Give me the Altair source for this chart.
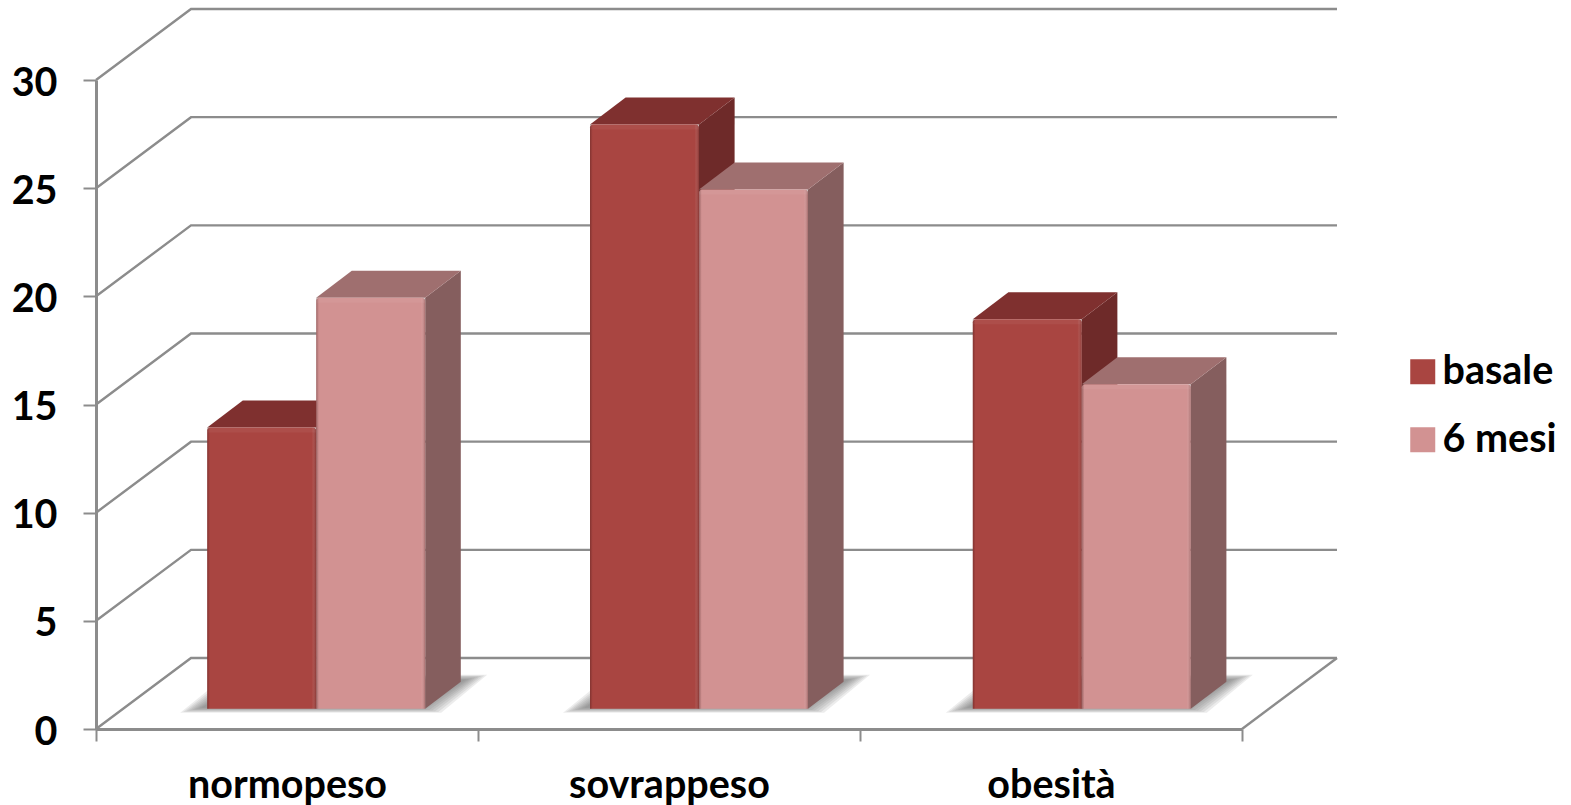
import altair as alt
import pandas as pd

# Chart values
categories = ["normopeso", "sovrappeso", "obesità"]
basale = [13, 27, 18]
sei_mesi = [19, 24, 15]
series_names = ["basale", "6 mesi"]
y_ticks = [0, 5, 10, 15, 20, 25, 30]

# Plot area in pixels and the oblique projection expressed in axis units
W, H = 1146, 649
PX_X = W / 3
PX_Y = H / 30
WALL_DX = 95 / PX_X
WALL_DY = 71 / PX_Y
BAR_W = 109 / PX_X
BAR_START = 111.2 / PX_X
GROUP_STEP = 382.8 / PX_X
BAR_BASE = 20.3 / PX_Y
BAR_DX = 35.6 / PX_X
BAR_DY = 27 / PX_Y

GRID = "#8c8c8c"
FONT = "Lato"
FONT_SIZE = 39.5

palette = {
    "basale": dict(front="#a94541", top="#7f302f", side="#6e2a29"),
    "6 mesi": dict(front="#d29292", top="#9f6f6f", side="#855e5e"),
}

# Wall and floor lines: side wall diagonal plus back wall horizontal for each tick
grid_rows = []
for v in y_ticks:
    grid_rows += [
        dict(line=v, i=0, x=0, y=v),
        dict(line=v, i=1, x=WALL_DX, y=v + WALL_DY),
        dict(line=v, i=2, x=3 + WALL_DX, y=v + WALL_DY),
    ]
grid_rows += [
    dict(line=-1, i=0, x=3, y=0),
    dict(line=-1, i=1, x=3 + WALL_DX, y=WALL_DY),
]
grid_df = pd.DataFrame(grid_rows)

# One record per bar, with the corners of its box
bars = []
for c, cat in enumerate(categories):
    for s, (name, vals) in enumerate(zip(series_names, [basale, sei_mesi])):
        x0 = c * GROUP_STEP + BAR_START + s * BAR_W
        bars.append(dict(cat=cat, series=name, s=s, value=vals[c], base=BAR_BASE,
                         x0=x0, x1=x0 + BAR_W,
                         top=vals[c] + BAR_BASE, id=f"{cat}-{name}"))
bars_df = pd.DataFrame(bars)
bars_df["bevel"] = bars_df["top"] - 5 / PX_Y

x_scale = alt.Scale(domain=[0, 3], nice=False, zero=False)
y_scale = alt.Scale(domain=[0, 30], nice=False, zero=False)
y_axis = alt.Axis(values=y_ticks, labelFont=FONT, labelFontSize=FONT_SIZE, labelFontWeight="bold",
                  labelColor="#000000", labelPadding=26, labelOffset=3, tickColor=GRID, tickWidth=2,
                  tickSize=13, domainColor=GRID, domainWidth=3, grid=False, title=None)
X = lambda f: alt.X(f, type="quantitative", scale=x_scale, axis=None, title=None)
Y = lambda f: alt.Y(f, type="quantitative", scale=y_scale, axis=y_axis, title=None)

# Category axis: band scale with ticks on the band edges
axis_layer = alt.Chart(pd.DataFrame(dict(cat=categories, y=[0, 0, 0]))).mark_point(opacity=0).encode(
    x=alt.X("cat:N", sort=categories, title=None,
            scale=alt.Scale(paddingInner=0, paddingOuter=0),
            axis=alt.Axis(tickBand="extent", labelAngle=0, labelFont=FONT, labelFontSize=FONT_SIZE,
                          labelFontWeight="bold", labelColor="#000000", labelPadding=25, labelLimit=0,
                          tickColor=GRID, tickWidth=2, tickSize=12, domainColor=GRID, domainWidth=3,
                          grid=False)),
    y=Y("y"),
)

grid_layer = alt.Chart(grid_df).mark_line(color=GRID, strokeWidth=2.4).encode(
    x=X("x"), y=Y("y"), detail="line:N", order="i:Q"
)

# Soft floor shadow: nested translucent parallelograms beneath each group
shadow_rows = []
for c in range(3):
    left = c * GROUP_STEP + BAR_START
    right = left + 2 * BAR_W
    for k in range(8):
        inset_x = k * 3 / PX_X
        inset_y = k * 0.7 / PX_Y
        shadow_rows += [
            dict(id=f"{c}-{k}", y=BAR_BASE - 4 / PX_Y + inset_y, xa=left - 27 / PX_X + inset_x,
                 xb=right + 16 / PX_X - inset_x),
            dict(id=f"{c}-{k}", y=BAR_BASE + 34 / PX_Y - inset_y, xa=left + 20 / PX_X + inset_x,
                 xb=right + 62 / PX_X - inset_x),
        ]
shadow_layer = alt.Chart(pd.DataFrame(shadow_rows)).mark_area(
    orient="horizontal", color="#6a6a6a", opacity=0.13
).encode(x=X("xa"), x2="xb:Q", y=Y("y"), detail="id:N")

layers = [axis_layer, grid_layer, shadow_layer]

color_scale = alt.Scale(domain=series_names, range=[palette[n]["front"] for n in series_names])
rim = alt.Gradient(
    gradient="linear", x1=0, x2=1, y1=0, y2=0,
    stops=[
        alt.GradientStop(color="rgba(60,20,20,0.35)", offset=0),
        alt.GradientStop(color="rgba(60,20,20,0)", offset=0.025),
        alt.GradientStop(color="rgba(255,255,255,0)", offset=0.96),
        alt.GradientStop(color="rgba(60,20,20,0.3)", offset=1),
    ],
)

for name in series_names:
    sub = bars_df[bars_df.series == name]
    side_rows, top_rows = [], []
    for b in sub.to_dict("records"):
        side_rows += [
            dict(id=b["id"], x=b["x1"], lo=b["base"], hi=b["top"]),
            dict(id=b["id"], x=b["x1"] + BAR_DX, lo=b["base"] + BAR_DY, hi=b["top"] + BAR_DY),
        ]
        top_rows += [
            dict(id=b["id"], y=b["top"], xa=b["x0"], xb=b["x1"]),
            dict(id=b["id"], y=b["top"] + BAR_DY, xa=b["x0"] + BAR_DX, xb=b["x1"] + BAR_DX),
        ]
    side = alt.Chart(pd.DataFrame(side_rows)).mark_area(orient="vertical", color=palette[name]["side"]).encode(
        x=X("x"), y=Y("lo"), y2="hi:Q", detail="id:N"
    )
    top = alt.Chart(pd.DataFrame(top_rows)).mark_area(orient="horizontal", color=palette[name]["top"]).encode(
        x=X("xa"), x2="xb:Q", y=Y("y"), detail="id:N"
    )
    front = alt.Chart(sub).mark_rect(cornerRadiusTopLeft=3, cornerRadiusTopRight=3).encode(
        x=X("x0"), x2="x1:Q", y=Y("base"), y2="top:Q",
        color=alt.Color("series:N", scale=color_scale, sort=series_names, title=None,
                        legend=alt.Legend(
                            orient="none", legendX=1407 - 96 - 4, legendY=359 - 80 - 7,
                            symbolType="square", symbolSize=625, symbolStrokeWidth=0,
                            symbolOpacity=1, rowPadding=27, labelOffset=0,
                            labelFont=FONT, labelFontSize=FONT_SIZE, labelFontWeight="bold",
                            labelColor="#000000", title=None)),
    )
    rim_layer = alt.Chart(sub).mark_rect(fill=rim).encode(
        x=X("x0"), x2="x1:Q", y=Y("base"), y2="top:Q"
    )
    bevel_layer = alt.Chart(sub).mark_rect(fill="#ffffff", opacity=0.05).encode(
        x=X("x0"), x2="x1:Q", y=Y("bevel"), y2="top:Q"
    )
    layers += [side, top, front, rim_layer, bevel_layer]

chart = alt.layer(*layers).resolve_scale(x="independent", color="shared").properties(
    width=W, height=H,
    padding={"left": 96, "top": 80, "right": 329, "bottom": 76},
    autosize=alt.AutoSizeParams(type="none"),
    background="#ffffff",
).configure_view(stroke=None)

chart.save("out.html", embed_options={"renderer": "svg", "actions": False})
